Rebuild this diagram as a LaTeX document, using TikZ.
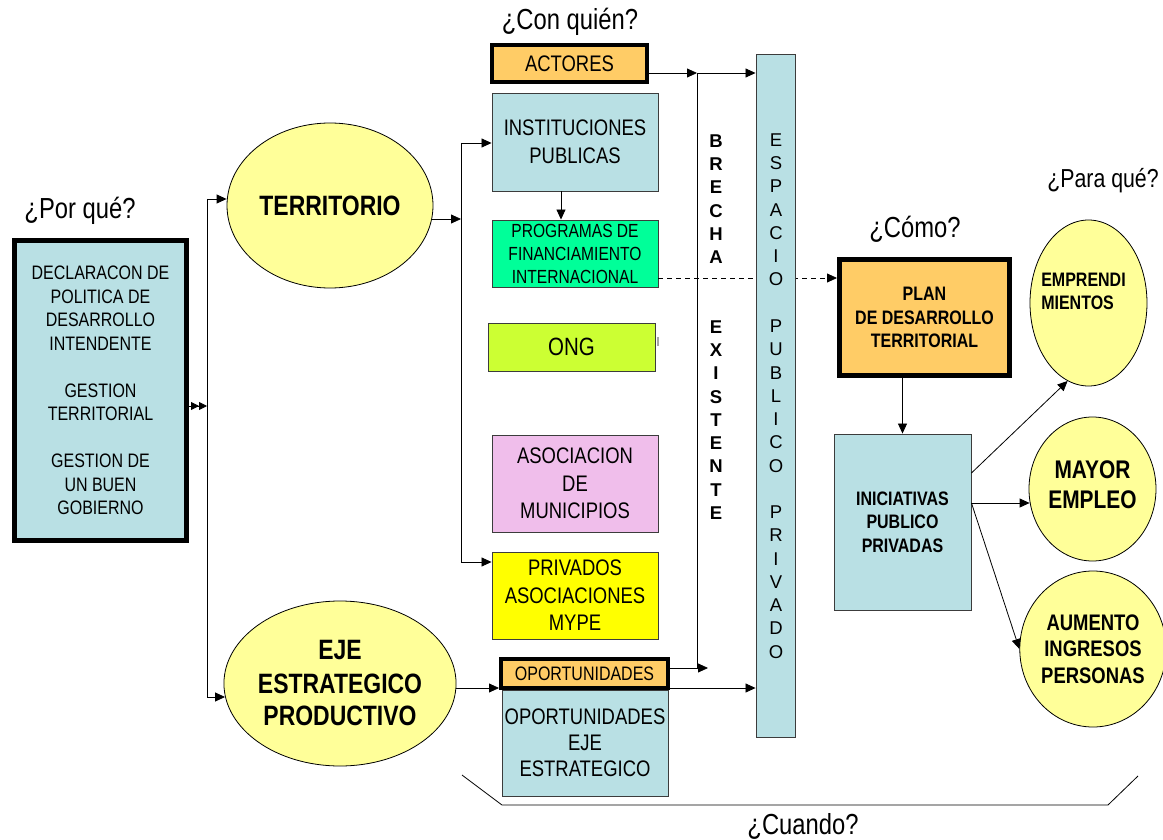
\documentclass[tikz,border=0pt]{standalone}
\usepackage{fontspec}
\setmainfont{Liberation Sans}[FakeStretch=0.82]
\newfontfamily\plainsans{Liberation Sans}
\usetikzlibrary{arrows.meta,shapes.geometric}
\newcommand\fz[2]{\fontsize{#1}{#2}\selectfont}
\definecolor{lblue}{RGB}{185,224,228}
\definecolor{orangebox}{RGB}{255,204,102}
\definecolor{greenbox}{RGB}{0,255,153}
\definecolor{limebox}{RGB}{204,255,51}
\definecolor{pinkbox}{RGB}{240,190,235}
\definecolor{yellowbox}{RGB}{255,255,0}
\definecolor{lyellow}{RGB}{255,255,153}
\definecolor{edge}{RGB}{60,60,60}
\tikzset{
  box/.style={draw=edge, line width=0.9pt, inner sep=0pt, align=center},
  thickbox/.style={draw=black, inner sep=0pt, align=center},
  oval/.style={ellipse, draw=black, line width=0.8pt, fill=lyellow, inner sep=0pt, align=center},
  question/.style={inner sep=0pt, font=\fz{29}{34}},
  arr/.style={line width=0.8pt, -{Triangle[length=10pt,width=9pt]}},
  dblarr/.style={line width=0.8pt, -{Triangle[length=8pt,width=8pt]Triangle[length=8pt,width=8pt]}},
  plainline/.style={line width=0.8pt},
}
\begin{document}
\begin{tikzpicture}[x=1pt,y=-1pt]
\useasboundingbox (0,0) rectangle (1163,840);

% question labels
\node[question] (porque) at (80,211) {¿Por qué?};
\node[question] (conquien) at (570,22) {¿Con quién?};
\node[question] (como) at (915,229) {¿Cómo?};
\node[question, font=\fz{26}{30}] (paraque) at (1103,181) {¿Para qué?};
\node[question] (cuando) at (803,826) {¿Cuando?};

% left box
\node[thickbox, line width=5pt, fill=lblue, minimum width=172, minimum height=300,
      font=\fz{19.5}{23.5}] (decl) at (100.5,390.5)
  {DECLARACON DE\\POLITICA DE\\DESARROLLO\\INTENDENTE\\[23.5pt]GESTION\\TERRITORIAL\\[23.5pt]GESTION DE\\UN BUEN\\GOBIERNO};

% ellipses
\node[oval, minimum width=206, minimum height=165, font=\bfseries\fz{28}{32}] (terr) at (330,205.5) {TERRITORIO};
\node[oval, minimum width=206, minimum height=165, font=\bfseries\fz{28}{33}] (eje) at (340,683.5) {EJE\\ESTRATEGICO\\PRODUCTIVO};

% actors column
\node[thickbox, line width=4pt, fill=orangebox, minimum width=155, minimum height=37,
      font=\fz{22.5}{26}] (actores) at (569.5,63.5) {ACTORES};
\node[box, fill=lblue, minimum width=166, minimum height=98, font=\fz{22.5}{28}] (inst) at (575,142) {INSTITUCIONES\\PUBLICAS};
\node[box, fill=greenbox, minimum width=166, minimum height=67, font=\fz{19}{23}] (prog) at (575,253.5) {PROGRAMAS DE\\FINANCIAMIENTO\\INTERNACIONAL};
\node[box, fill=limebox, minimum width=167, minimum height=48, font=\fz{25}{28}] (ong) at (571.5,347) {ONG};
\node[box, fill=pinkbox, minimum width=166, minimum height=97, font=\fz{22.5}{27.5}] (asoc) at (575,483.5) {ASOCIACION\\DE\\MUNICIPIOS};
\node[box, fill=yellowbox, minimum width=166, minimum height=87, font=\fz{22.5}{27.5}] (priv) at (575,595.5) {PRIVADOS\\ASOCIACIONES\\MYPE};
\node[box, fill=lblue, minimum width=166, minimum height=106, font=\fz{22.5}{26}] (oeje) at (585,743) {OPORTUNIDADES\\EJE\\ESTRATEGICO};
\node[thickbox, line width=4pt, fill=orangebox, minimum width=167, minimum height=29,
      font=\fz{19.5}{23}] (oport) at (584.5,673.5) {OPORTUNIDADES};
\draw[gray!70, line width=1.2pt] (658,337) -- (658,346);

% plan
\node[thickbox, line width=5pt, fill=orangebox, minimum width=170, minimum height=116,
      font=\bfseries\fz{19.5}{23.5}] (plan) at (924.5,317.5) {PLAN\\DE DESARROLLO\\TERRITORIAL};

% dashed connector (behind the espacio bar)
\coordinate (d1) at (700,278);
\draw[arr, dashed, dash pattern=on 5pt off 4pt] (prog.east |- d1) -- (d1 -| plan.west);

% espacio publico privado bar
\node[box, fill=lblue, minimum width=39, minimum height=683] (espacio) at (775.5,395.5) {};
\node[inner sep=0pt, align=center, font=\plainsans\fz{18.5}{23.27}] (esptxt) at (776,396)
  {E\\S\\P\\A\\C\\I\\O\\[23.27pt]P\\U\\B\\L\\I\\C\\O\\[23.27pt]P\\R\\I\\V\\A\\D\\O};
\node[inner sep=0pt, align=center, font=\plainsans\bfseries\fz{18.5}{23.25}] (brecha) at (716,327)
  {B\\R\\E\\C\\H\\A\\[46.5pt]E\\X\\I\\S\\T\\E\\N\\T\\E};

% right side
\node[box, fill=lblue, minimum width=137, minimum height=176, font=\bfseries\fz{19.5}{23.5}] (inic) at (902.5,522) {INICIATIVAS\\PUBLICO\\PRIVADAS};
\node[oval, minimum width=117, minimum height=166] (empr) at (1088.5,303) {};
\node[inner sep=0pt, align=left, font=\bfseries\fz{19.5}{23}] (emprtxt) at (1083.5,291) {EMPRENDI\\MIENTOS};
\node[oval, minimum width=127, minimum height=144, font=\bfseries\fz{25.5}{30}] (mayor) at (1092.5,489) {MAYOR\\EMPLEO\\[-22pt]\mbox{}};
\node[oval, minimum width=128, minimum height=156, font=\bfseries\fz{22.5}{26.5}] (aumento) at (1093,649) {AUMENTO\\INGRESOS\\PERSONAS};

% connectors left
\coordinate (j1) at (207,406);
\coordinate (j2) at (207,199);
\coordinate (j3) at (207,697);
\draw[dblarr] (decl.east |- j1) -- (j1);
\draw[plainline] (j2) -- (j3);
\draw[arr] (j2) -- (j2 -| terr.west);
\draw[arr] (j3) -- ([xshift=1.5pt]j3 -| eje.west);

\coordinate (k1) at (461,219);
\coordinate (k2) at (461,143);
\coordinate (k3) at (461,562);
\draw[arr] ([xshift=-1.5pt]terr.east |- k1) -- (k1);
\draw[plainline] (k2) -- (k3);
\draw[arr] (k2) -- (k2 -| inst.west);
\draw[arr] (k3) -- (k3 -| priv.west);
\draw[arr] ([xshift=-14pt]inst.south) -- ([xshift=-14pt]prog.north);

% actors to espacio
\coordinate (a1) at (697,73);
\coordinate (a2) at (697,668);
\coordinate (a3) at (708,668);
\draw[arr] (actores.east |- a1) -- (a1);
\draw[arr] (a1) -- (a1 -| espacio.west);
\draw[plainline] (a1) -- (a2);
\draw[arr] (oport.east |- a3) -- (a3);

% eje to oportunidades to espacio
\coordinate (e1) at (500,688);
\draw[arr] (eje.east |- e1) -- (e1 -| oport.west);
\draw[arr] (oport.east |- e1) -- (e1 -| espacio.west);

% plan to iniciativas and outcomes
\draw[arr] (plan.south -| inic.north) -- (inic.north);
\coordinate (i1) at (971,473);
\coordinate (i2) at (971,503);
\draw[arr] (inic.east |- i1) -- (empr.255);
\draw[arr] (inic.east |- i2) -- ([xshift=1pt]i2 -| mayor.west);
\draw[arr] (inic.east |- i2) -- (aumento.west);

% bottom bracket
\coordinate (b1) at (462,775);
\coordinate (b2) at (502,805);
\coordinate (b3) at (1108,805);
\coordinate (b4) at (1138,776);
\draw[plainline] (b1) -- (b2) -- (b3) -- (b4);
\end{tikzpicture}
\end{document}
